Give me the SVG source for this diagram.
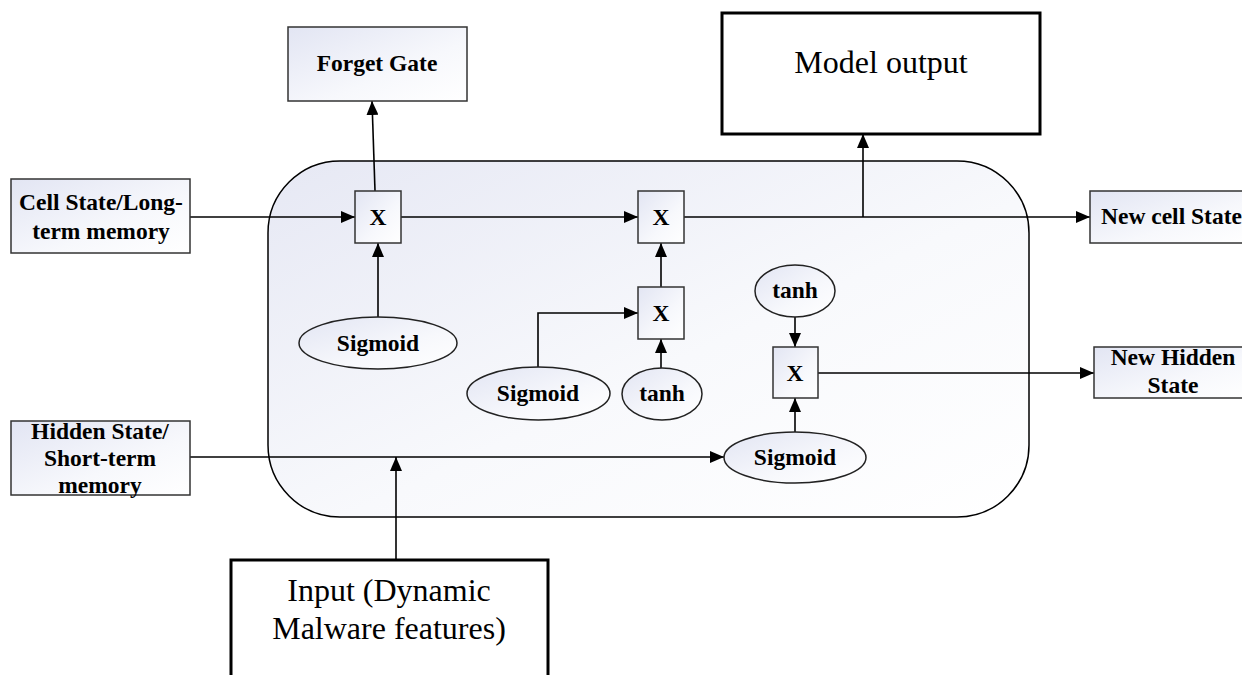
<svg xmlns="http://www.w3.org/2000/svg" width="1242" height="675" viewBox="0 0 1242 675">
  <defs>
    <linearGradient id="shade" x1="0" y1="0" x2="1" y2="1">
      <stop offset="0" stop-color="#e2e5f3"/>
      <stop offset="0.6" stop-color="#f7f8fc"/>
      <stop offset="1" stop-color="#ffffff"/>
    </linearGradient>
    <linearGradient id="cellShade" x1="0" y1="0" x2="1" y2="1">
      <stop offset="0" stop-color="#e6e8f4"/>
      <stop offset="0.55" stop-color="#f8f9fc"/>
      <stop offset="1" stop-color="#ffffff"/>
    </linearGradient>
    <marker id="arrow" viewBox="0 0 14 12" refX="14" refY="6" markerWidth="14" markerHeight="12" markerUnits="userSpaceOnUse" orient="auto">
      <path d="M0,0 L14,6 L0,12 z" fill="#000"/>
    </marker>
  </defs>
  <style>
    .box { fill: url(#shade); stroke: #333; stroke-width: 1.5; }
    .big { fill: #fff; stroke: #000; stroke-width: 3; }
    .op { fill: url(#shade); stroke: #333; stroke-width: 1.5; }
    .fn { fill: url(#shade); stroke: #222; stroke-width: 1.5; }
    .lbl { font-family: "Liberation Serif", "Times New Roman", serif; font-weight: bold; font-size: 23.5px; fill: #000; text-anchor: middle; }
    .plain { font-family: "Liberation Serif", "Times New Roman", serif; font-size: 32px; fill: #000; text-anchor: middle; }
    .wire { fill: none; stroke: #000; stroke-width: 1.6; }
    .arr { marker-end: url(#arrow); }
  </style>

  <rect width="1242" height="675" fill="#fff"/>

  <!-- LSTM cell body -->
  <g id="cell">
    <rect x="268" y="161" width="761" height="356" rx="72" ry="72" fill="url(#cellShade)" stroke="#000" stroke-width="1.5"/>
  </g>

  <!-- connectors -->
  <g id="connectors">
    <path class="wire arr" d="M190,217 H355"/>
    <path class="wire arr" d="M401,217 H638"/>
    <path class="wire arr" d="M684,217 H1090"/>
    <path class="wire arr" d="M863,217 V134"/>
    <path class="wire arr" d="M375,191 L372,101"/>
    <path class="wire arr" d="M378,317 V243"/>
    <path class="wire arr" d="M661,287 V243"/>
    <path class="wire arr" d="M661,368 V339"/>
    <path class="wire arr" d="M538,367 V313 H638"/>
    <path class="wire arr" d="M190,457 H724"/>
    <path class="wire arr" d="M396,560 V457"/>
    <path class="wire arr" d="M795,317 V347"/>
    <path class="wire arr" d="M795,432 V398"/>
    <path class="wire arr" d="M818,373 H1094"/>
  </g>

  <!-- inputs -->
  <g id="cell-state-in">
    <rect class="box" x="11" y="179" width="179" height="74"/>
    <text class="lbl" x="101" y="210">Cell State/Long-</text>
    <text class="lbl" x="101" y="239">term memory</text>
  </g>
  <g id="hidden-state-in">
    <rect class="box" x="11" y="421" width="179" height="74"/>
    <text class="lbl" x="100" y="439">Hidden State/</text>
    <text class="lbl" x="100" y="466">Short-term</text>
    <text class="lbl" x="100" y="493">memory</text>
  </g>
  <g id="input">
    <rect class="big" x="231" y="560" width="317" height="130"/>
    <text class="plain" x="389" y="601">Input (Dynamic</text>
    <text class="plain" x="389" y="639">Malware features)</text>
  </g>

  <!-- outputs -->
  <g id="forget-gate">
    <rect class="box" x="288" y="27" width="179" height="74"/>
    <text class="lbl" x="377" y="71">Forget Gate</text>
  </g>
  <g id="model-output">
    <rect class="big" x="722" y="13" width="318" height="121"/>
    <text class="plain" x="881" y="73">Model output</text>
  </g>
  <g id="new-cell-state">
    <rect class="box" x="1090" y="191" width="160" height="52"/>
    <text class="lbl" x="1101" y="224" style="text-anchor:start">New cell State</text>
  </g>
  <g id="new-hidden-state">
    <rect class="box" x="1094" y="347" width="156" height="51"/>
    <text class="lbl" x="1173" y="365">New Hidden</text>
    <text class="lbl" x="1173" y="393">State</text>
  </g>

  <!-- multiply operations -->
  <g id="mul-forget">
    <rect class="op" x="355" y="191" width="46" height="52"/>
    <text class="lbl" x="378" y="225">X</text>
  </g>
  <g id="mul-update">
    <rect class="op" x="638" y="191" width="46" height="52"/>
    <text class="lbl" x="661" y="225">X</text>
  </g>
  <g id="mul-candidate">
    <rect class="op" x="638" y="287" width="46" height="52"/>
    <text class="lbl" x="661" y="321">X</text>
  </g>
  <g id="mul-output">
    <rect class="op" x="773" y="347" width="45" height="51"/>
    <text class="lbl" x="795" y="381">X</text>
  </g>

  <!-- activation functions -->
  <g id="sigmoid-forget">
    <ellipse class="fn" cx="378" cy="343" rx="79" ry="26"/>
    <text class="lbl" x="378" y="351">Sigmoid</text>
  </g>
  <g id="sigmoid-input">
    <ellipse class="fn" cx="538.5" cy="393.5" rx="71.5" ry="26.5"/>
    <text class="lbl" x="538" y="401">Sigmoid</text>
  </g>
  <g id="tanh-input">
    <ellipse class="fn" cx="662" cy="394" rx="40" ry="26"/>
    <text class="lbl" x="662" y="401">tanh</text>
  </g>
  <g id="tanh-output">
    <ellipse class="fn" cx="795" cy="291" rx="40" ry="26"/>
    <text class="lbl" x="795" y="298">tanh</text>
  </g>
  <g id="sigmoid-output">
    <ellipse class="fn" cx="795" cy="457.5" rx="71" ry="25.5"/>
    <text class="lbl" x="795" y="465">Sigmoid</text>
  </g>
</svg>
